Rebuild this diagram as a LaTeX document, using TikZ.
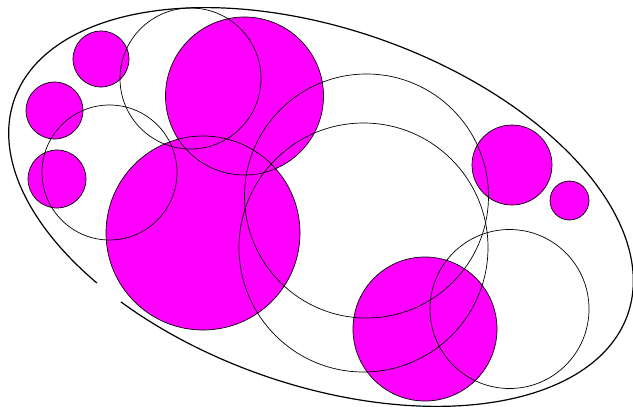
\documentclass[tikz,border=0pt]{standalone}
\definecolor{mag}{HTML}{FF00FF}
\tikzset{
  filledc/.style={fill=mag, draw=none},
  ring/.style={draw=black, line width=0.7pt},
  outer/.style={draw=black, line width=1.2pt}
}
\begin{document}
\begin{tikzpicture}[x=1pt,y=-1pt]
\useasboundingbox (0,0) rectangle (633,407);
% filled circles
\foreach \cx/\cy/\r in {101/59/28, 54.5/110.5/28.5, 57/179/29, 244.5/96/79, 203/233/97, 512/165/40, 569.5/200.5/19.5, 425/329/72}
  \fill[filledc] (\cx,\cy) circle (\r);
% outlines of filled circles
\foreach \cx/\cy/\r in {101/59/28, 54.5/110.5/28.5, 57/179/29, 244.5/96/79, 203/233/97, 512/165/40, 569.5/200.5/19.5, 425/329/72}
  \draw[ring] (\cx,\cy) circle (\r);
% open circles
\foreach \cx/\cy/\r in {190.5/78.5/70.5, 109.5/172.5/67.5, 366.5/196/122, 363.5/247.5/124.5, 509.5/309/79.5}
  \draw[ring] (\cx,\cy) circle (\r);
% outer boundary with gap at lower left
\draw[outer] plot[domain=125:479, samples=240, smooth]
  ({321 + 325*cos(\x)*0.9438 - 178*sin(\x)*0.3305},
   {207 + 325*cos(\x)*0.3305 + 178*sin(\x)*0.9438});
\end{tikzpicture}
\end{document}
